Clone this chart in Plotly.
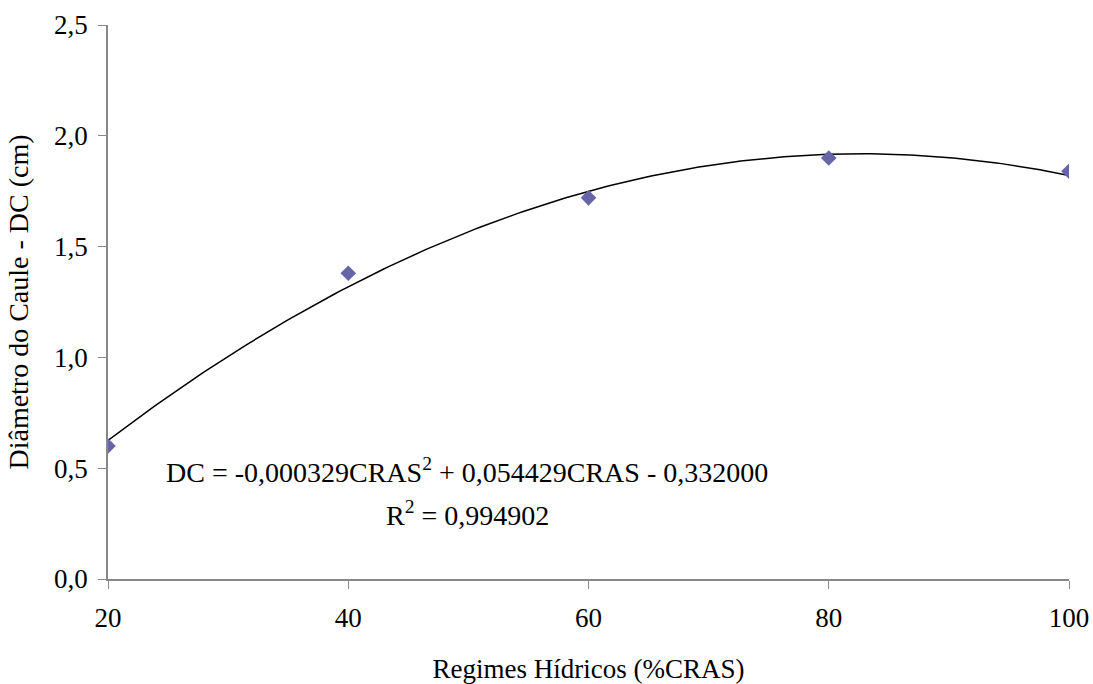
import numpy as np
import plotly.graph_objects as go

# Data
regimes = [20, 40, 60, 80, 100]
diametro = [0.60, 1.38, 1.72, 1.90, 1.84]

# Trendline coefficients as printed on the chart
coef_a = -0.000329
coef_b = 0.054429
coef_c = -0.332000
equation_text = "DC = -0,000329CRAS<sup>2</sup> + 0,054429CRAS - 0,332000"
r2_text = "R<sup>2</sup> = 0,994902"

y_ticks = [0.0, 0.5, 1.0, 1.5, 2.0, 2.5]
x_ticks = [20, 40, 60, 80, 100]

xs = np.linspace(min(regimes), max(regimes), 200)
ys = coef_a * xs**2 + coef_b * xs + coef_c

FONT = "Liberation Serif"

fig = go.Figure()
fig.add_trace(go.Scatter(x=xs, y=ys, mode="lines",
                         line=dict(color="black", width=1.5),
                         hoverinfo="skip", showlegend=False))
fig.add_trace(go.Scatter(x=regimes, y=diametro, mode="markers",
                         marker=dict(symbol="diamond", size=12, color="#6666A6",
                                     line=dict(width=0)),
                         showlegend=False))

fig.add_annotation(x=0.3736, y=0.161, xref="paper", yref="paper",
                   text=equation_text, showarrow=False,
                   font=dict(family=FONT, size=28, color="black"))
fig.add_annotation(x=0.3736, y=0.083, xref="paper", yref="paper",
                   text=r2_text, showarrow=False,
                   font=dict(family=FONT, size=28, color="black"))

fig.update_layout(
    width=1093, height=684,
    margin=dict(l=108, r=24, t=25, b=105),
    paper_bgcolor="white", plot_bgcolor="white",
    separators=",.",
    font=dict(family=FONT, size=27, color="black"),
    xaxis=dict(range=[20, 100], tickvals=x_ticks, ticks="outside", ticklen=8,
               tickcolor="#888888", showline=True, linecolor="#888888", linewidth=1.5,
               showgrid=False, zeroline=False, ticklabelstandoff=6, automargin=False,
               tickfont=dict(family=FONT, size=27),
               title=dict(text="Regimes Hídricos (%CRAS)", standoff=34,
                          font=dict(family=FONT, size=27))),
    yaxis=dict(range=[0, 2.5], tickvals=y_ticks, tickformat=".1f", ticks="outside",
               ticklen=8, tickcolor="#888888", showline=True, linecolor="#888888",
               linewidth=1.5, showgrid=False, zeroline=False, ticklabelstandoff=5,
               automargin=False,
               tickfont=dict(family=FONT, size=27),
               title=dict(text="Diâmetro do Caule - DC (cm)", standoff=17,
                          font=dict(family=FONT, size=28))),
)

fig.write_html("out.html", config={"displayModeBar": False},
               post_script="document.body.style.margin='0';document.body.style.overflow='hidden';")
